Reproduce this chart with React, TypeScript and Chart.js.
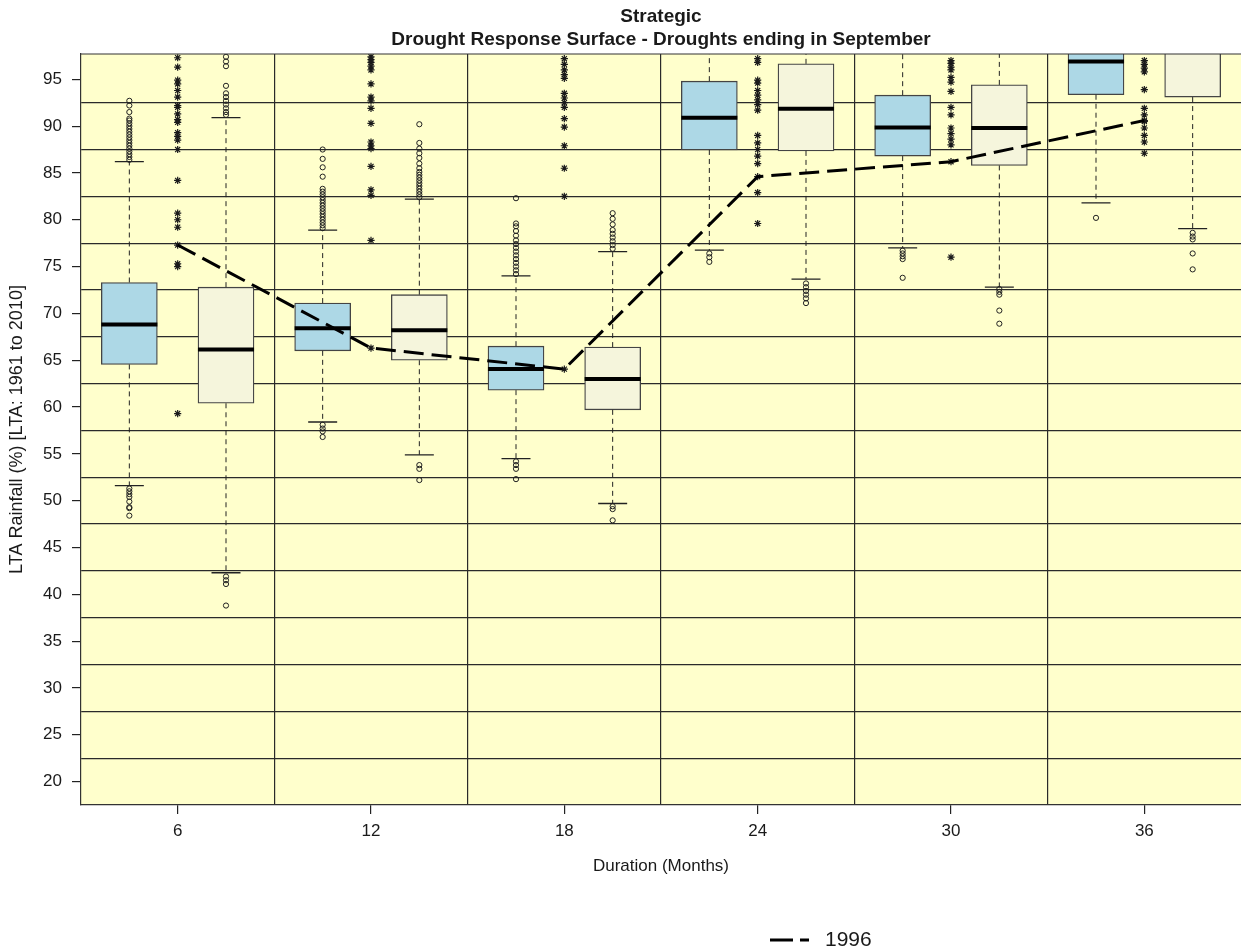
import React, { useEffect, useRef } from 'react';
import { Chart, registerables } from 'chart.js';

Chart.register(...registerables);

// ---------- data ----------
const durations = [6, 12, 18, 24, 30, 36];
const groupBoundaries = [9, 15, 21, 27, 33];
const yTickValues = [20, 25, 30, 35, 40, 45, 50, 55, 60, 65, 70, 75, 80, 85, 90, 95];
const yGridValues = [22.5, 27.5, 32.5, 37.5, 42.5, 47.5, 52.5, 57.5, 62.5, 67.5, 72.5, 77.5, 82.5, 87.5, 92.5];

// blue boxes (left of each duration)
const blueLowerWhisker = [51.6, 58.4, 54.5, 76.75, 77.0, 81.8];
const blueQ1 = [64.55, 66.0, 61.8, 87.45, 86.8, 93.35];
const blueMedian = [68.8, 68.4, 64.05, 90.9, 89.85, 96.9];
const blueQ3 = [73.3, 71.1, 66.5, 94.8, 93.3, 99.0];
const blueUpperWhisker = [86.2, 78.9, 74.0, 100, 100, 100];
const blueOutliers = [
  [86.4, 86.7, 87.0, 87.3, 87.6, 87.9, 88.2, 88.5, 88.8, 89.1, 89.4, 89.7, 90.0, 90.3, 90.6, 90.8, 91.5, 92.2, 92.7, 51.3, 51.0, 50.7, 50.4, 49.9, 49.3, 49.2, 48.4],
  [79.1, 79.4, 79.7, 80.0, 80.3, 80.6, 80.9, 81.2, 81.5, 81.8, 82.1, 82.4, 82.7, 83.0, 83.3, 84.6, 85.6, 86.5, 87.5, 58.1, 57.7, 57.4, 56.8],
  [74.2, 74.6, 75.0, 75.4, 75.8, 76.2, 76.6, 77.0, 77.4, 77.8, 78.3, 78.8, 79.3, 79.6, 82.3, 54.2, 53.8, 53.4, 52.3],
  [76.4, 76.0, 75.5],
  [76.7, 76.4, 76.1, 75.8, 73.8],
  [80.2],
];

// beige boxes (right of each duration)
const beigeLowerWhisker = [42.3, 54.9, 49.7, 73.65, 72.8, 79.05];
const beigeQ1 = [60.4, 65.0, 59.7, 87.35, 85.8, 93.1];
const beigeMedian = [66.15, 68.2, 63.0, 91.85, 89.8, 98.2];
const beigeQ3 = [72.8, 72.0, 66.4, 96.65, 94.4, 99.0];
const beigeUpperWhisker = [90.9, 82.2, 76.6, 100, 100, 100];
const beigeOutliers = [
  [91.2, 91.5, 91.9, 92.3, 92.7, 93.1, 93.5, 94.3, 96.4, 96.9, 97.4, 41.9, 41.5, 41.1, 38.8],
  [82.4, 82.7, 83.0, 83.3, 83.6, 83.9, 84.2, 84.5, 84.8, 85.1, 85.5, 86.0, 86.6, 87.1, 87.6, 88.2, 90.2, 53.8, 53.4, 52.2],
  [76.9, 77.3, 77.7, 78.1, 78.5, 78.9, 79.5, 80.1, 80.7, 49.4, 49.1, 47.9],
  [73.2, 72.8, 72.4, 72.0, 71.6, 71.1],
  [72.6, 72.3, 72.0, 70.3, 68.9],
  [78.6, 78.2, 77.9, 76.4, 74.7],
];

// individual years (asterisks) at each duration
const yearValues = [
  [97.3, 96.3, 94.9, 94.5, 93.8, 93.1, 92.2, 92.0, 91.3, 90.7, 90.4, 89.3, 88.9, 88.5, 87.5, 84.2, 80.7, 80.0, 79.2, 77.3, 75.3, 75.0, 59.3],
  [97.4, 97.1, 96.8, 96.4, 96.0, 94.5, 93.1, 92.7, 91.9, 90.3, 88.3, 87.9, 87.6, 85.7, 83.2, 82.6, 77.8, 66.3],
  [97.2, 96.6, 96.0, 95.5, 95.1, 93.5, 93.0, 92.5, 92.0, 90.8, 89.9, 87.9, 85.5, 82.5, 64.05],
  [97.2, 96.8, 94.9, 94.6, 93.8, 93.3, 92.8, 92.3, 91.7, 89.0, 88.2, 87.5, 86.8, 86.0, 84.6, 82.9, 79.6],
  [97.0, 96.7, 96.3, 96.0, 95.2, 94.7, 93.7, 92.0, 91.2, 89.8, 89.2, 88.6, 88.0, 86.2, 76.0],
  [97.0, 96.6, 96.2, 95.8, 93.9, 91.9, 91.2, 90.6, 90.5, 89.8, 89.0, 88.3, 87.1],
];

const year1996 = [77.3, 66.3, 64.05, 84.6, 86.2, 90.6];
const LEGEND_LABEL = '1996';

// ---------- styling constants ----------
const PAIR_OFFSET = 1.5; // months from duration to box centre
const BOX_HALF = 0.87; // months
const CAP_HALF = 0.45; // months
const FONT = '"Liberation Sans", Arial, Helvetica, sans-serif';
const TEXT = '#1a1a1a';
const BLUE = '#ADD8E6';
const BEIGE = '#F5F5DC';
const PANEL = '#FFFFCC';

type Pt = { x: number; y: number | null };

function seg(x1: number, y1: number, x2: number, y2: number): Pt[] {
  return [{ x: x1, y: y1 }, { x: x2, y: y2 }, { x: x2, y: null }];
}

function buildBoxParts(offset: number, lw: number[], q1: number[], med: number[], q3: number[], uw: number[], outl: number[][]) {
  const xs = durations.map((d) => d + offset);
  const boxes = xs.map((x, i) => ({ x, y: [q1[i], q3[i]] }));
  const medians: Pt[] = [];
  const whiskers: Pt[] = [];
  const caps: Pt[] = [];
  const outliers: Pt[] = [];
  xs.forEach((x, i) => {
    medians.push(...seg(x - BOX_HALF, med[i], x + BOX_HALF, med[i]));
    whiskers.push(...seg(x, q3[i], x, uw[i]));
    whiskers.push(...seg(x, q1[i], x, lw[i]));
    caps.push(...seg(x - CAP_HALF, lw[i], x + CAP_HALF, lw[i]));
    caps.push(...seg(x - CAP_HALF, uw[i], x + CAP_HALF, uw[i]));
    outl[i].forEach((v) => outliers.push({ x, y: v }));
  });
  return { boxes, medians, whiskers, caps, outliers };
}

const panelPlugin = {
  id: 'panel',
  beforeDraw(chart: any) {
    const { ctx, chartArea: a } = chart;
    ctx.save();
    ctx.fillStyle = PANEL;
    ctx.fillRect(a.left, a.top, a.right - a.left, a.bottom - a.top);
    ctx.restore();
  },
  afterDraw(chart: any) {
    const { ctx, chartArea: a } = chart;
    ctx.save();
    ctx.strokeStyle = '#333';
    ctx.lineWidth = 1.2;
    ctx.beginPath();
    ctx.moveTo(a.left, a.top);
    ctx.lineTo(a.right, a.top);
    ctx.stroke();
    // legend
    const ds = chart.data.datasets.find((d: any) => d.label === LEGEND_LABEL);
    if (ds) {
      const y = chart.height - 9;
      const x0 = a.left + 689;
      ctx.strokeStyle = ds.borderColor;
      ctx.lineWidth = ds.borderWidth;
      ctx.setLineDash([23, 7]);
      ctx.beginPath();
      ctx.moveTo(x0, y);
      ctx.lineTo(x0 + 39, y);
      ctx.stroke();
      ctx.setLineDash([]);
      ctx.fillStyle = TEXT;
      ctx.font = `21px ${FONT}`;
      ctx.textBaseline = 'middle';
      ctx.textAlign = 'left';
      ctx.fillText(ds.label, x0 + 55, y);
    }
    ctx.restore();
  },
};

export default function App() {
  const ref = useRef<HTMLCanvasElement | null>(null);

  useEffect(() => {
    if (!ref.current) return;
    const A = buildBoxParts(-PAIR_OFFSET, blueLowerWhisker, blueQ1, blueMedian, blueQ3, blueUpperWhisker, blueOutliers);
    const B = buildBoxParts(PAIR_OFFSET, beigeLowerWhisker, beigeQ1, beigeMedian, beigeQ3, beigeUpperWhisker, beigeOutliers);
    const stars: Pt[] = [];
    durations.forEach((d, i) => yearValues[i].forEach((v) => stars.push({ x: d, y: v })));

    const lineBase = { type: 'line', pointRadius: 0, fill: false, spanGaps: false, tension: 0 };

    const chart = new Chart(ref.current, {
      type: 'scatter',
      data: {
        datasets: [
          {
            ...lineBase,
            label: LEGEND_LABEL,
            data: durations.map((d, i) => ({ x: d, y: year1996[i] })),
            borderColor: '#000',
            borderWidth: 3,
            borderDash: [20, 8],
            order: 1,
          },
          {
            type: 'scatter',
            label: 'years',
            data: stars,
            pointStyle: 'star',
            pointRadius: 3.6,
            borderColor: '#1a1a1a',
            backgroundColor: '#1a1a1a',
            borderWidth: 1.2,
            order: 2,
          },
          {
            type: 'scatter',
            label: 'outA',
            data: A.outliers,
            pointStyle: 'circle',
            pointRadius: 2.6,
            borderColor: '#222',
            backgroundColor: 'rgba(0,0,0,0)',
            borderWidth: 1,
            order: 3,
          },
          {
            type: 'scatter',
            label: 'outB',
            data: B.outliers,
            pointStyle: 'circle',
            pointRadius: 2.6,
            borderColor: '#222',
            backgroundColor: 'rgba(0,0,0,0)',
            borderWidth: 1,
            order: 3,
          },
          { ...lineBase, label: 'medA', data: A.medians, borderColor: '#000', borderWidth: 4, order: 4 },
          { ...lineBase, label: 'medB', data: B.medians, borderColor: '#000', borderWidth: 4, order: 4 },
          { ...lineBase, label: 'capA', data: A.caps, borderColor: '#222', borderWidth: 1.3, order: 5 },
          { ...lineBase, label: 'capB', data: B.caps, borderColor: '#222', borderWidth: 1.3, order: 5 },
          { ...lineBase, label: 'whA', data: A.whiskers, borderColor: '#222', borderWidth: 1, borderDash: [5, 4], order: 6 },
          { ...lineBase, label: 'whB', data: B.whiskers, borderColor: '#222', borderWidth: 1, borderDash: [5, 4], order: 6 },
          {
            type: 'bar',
            label: 'boxA',
            data: A.boxes,
            backgroundColor: BLUE,
            borderColor: '#444',
            borderWidth: 1.3,
            borderSkipped: false,
            barThickness: 56,
            stack: 'box',
            order: 7,
          },
          {
            type: 'bar',
            label: 'boxB',
            data: B.boxes,
            backgroundColor: BEIGE,
            borderColor: '#444',
            borderWidth: 1.3,
            borderSkipped: false,
            barThickness: 56,
            stack: 'box',
            order: 7,
          },
        ] as any,
      },
      options: {
        responsive: false,
        animation: false,
        events: [],
        layout: { autoPadding: false, padding: { left: 0, right: 0, top: 0, bottom: 64 } },
        plugins: {
          legend: { display: false },
          tooltip: { enabled: false },
          title: {
            display: true,
            fullSize: false,
            text: ['Strategic', 'Drought Response Surface - Droughts ending in September'],
            color: TEXT,
            font: { family: FONT, size: 19, weight: 'bold', lineHeight: 23 / 19 },
            padding: { top: 5.5, bottom: 2.5 },
          },
        },
        scales: {
          x: {
            type: 'linear',
            min: 3,
            max: 39,
            offset: false,
            afterBuildTicks: (axis: any) => {
              const vals = [...durations, ...groupBoundaries].sort((a, b) => a - b);
              axis.ticks = vals.map((v) => ({ value: v }));
            },
            afterFit: (axis: any) => {
              axis.height = 80;
              axis.paddingLeft = 0;
              axis.paddingRight = 0;
            },
            ticks: {
              autoSkip: false,
              maxRotation: 0,
              padding: 7,
              color: TEXT,
              font: { family: FONT, size: 17 },
              callback: (v: any) => (durations.includes(Number(v)) ? String(v) : ''),
            },
            grid: {
              offset: false,
              drawTicks: true,
              tickLength: 9,
              lineWidth: 1.2,
              color: (c: any) => (groupBoundaries.includes(c.tick?.value) ? '#2a2a2a' : 'rgba(0,0,0,0)'),
              tickColor: (c: any) => (durations.includes(c.tick?.value) ? '#222' : 'rgba(0,0,0,0)'),
            },
            border: { display: true, color: '#333', width: 1.2 },
            title: {
              display: true,
              text: 'Duration (Months)',
              color: TEXT,
              font: { family: FONT, size: 17 },
              padding: { top: 4, bottom: 8 },
            },
          },
          y: {
            type: 'linear',
            min: 17.5,
            max: 97.7,
            stacked: false,
            afterBuildTicks: (axis: any) => {
              const vals = [...yTickValues, ...yGridValues].sort((a, b) => a - b);
              axis.ticks = vals.map((v) => ({ value: v }));
            },
            afterFit: (axis: any) => {
              axis.width = 81;
              axis.paddingTop = 0;
              axis.paddingBottom = 0;
            },
            ticks: {
              autoSkip: false,
              padding: 10,
              color: TEXT,
              font: { family: FONT, size: 17 },
              callback: (v: any) => (yTickValues.includes(Number(v)) ? String(v) : ''),
            },
            grid: {
              drawTicks: true,
              tickLength: 9,
              lineWidth: 1.2,
              color: (c: any) => (yGridValues.includes(c.tick?.value) ? '#2a2a2a' : 'rgba(0,0,0,0)'),
              tickColor: (c: any) => (yTickValues.includes(c.tick?.value) ? '#222' : 'rgba(0,0,0,0)'),
            },
            border: { display: true, color: '#333', width: 1.2 },
            title: {
              display: true,
              text: 'LTA Rainfall (%) [LTA: 1961 to 2010]',
              color: TEXT,
              font: { family: FONT, size: 18 },
              padding: { top: 6, bottom: 0 },
            },
          },
        },
      } as any,
      plugins: [panelPlugin],
    });
    return () => chart.destroy();
  }, []);

  return (
    <div style={{ position: 'fixed', left: 0, top: 0, width: 1241, height: 949, background: '#fff' }}>
      <canvas ref={ref} width={1241} height={949} style={{ display: 'block', width: 1241, height: 949 }} />
    </div>
  );
}
